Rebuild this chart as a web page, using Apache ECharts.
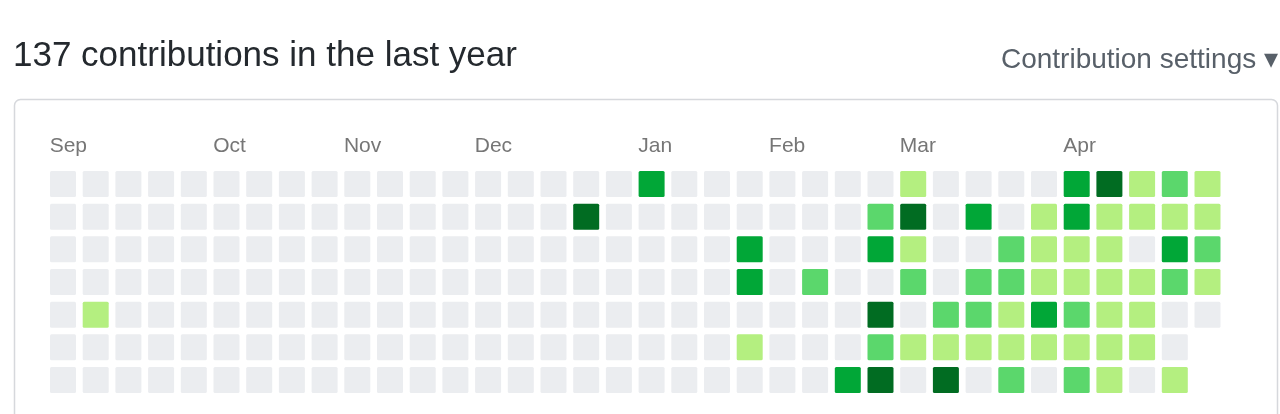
<!DOCTYPE html>
<html>
<head>
<meta charset="utf-8">
<script src="https://cdn.jsdelivr.net/npm/echarts@6/dist/echarts.min.js"></script>
<style>
  html, body { margin: 0; padding: 0; background: #ffffff; }
  #chart { width: 1280px; height: 414px; }
</style>
</head>
<body>
<div id="chart"></div>
<script>
// ---- data ----
const titleText = '137 contributions in the last year';
const settingsText = 'Contribution settings \u25BE';
const weekCount = 36;
const days = ['Sun', 'Mon', 'Tue', 'Wed', 'Thu', 'Fri', 'Sat'];
const monthLabels = ['Sep', 'Oct', 'Nov', 'Dec', 'Jan', 'Feb', 'Mar', 'Apr'];
const monthWeeks = [0, 5, 9, 13, 18, 22, 26, 31];
const levelColors = ['#ebedf0', '#b4ef80', '#5bd76c', '#01a737', '#016c22'];

// contribution level per day row, one value per week column
const rowSun = [0,0,0,0,0,0,0,0,0,0,0,0,0,0,0,0,0,0,3,0,0,0,0,0,0,0,1,0,0,0,0,3,4,1,2,1];
const rowMon = [0,0,0,0,0,0,0,0,0,0,0,0,0,0,0,0,4,0,0,0,0,0,0,0,0,2,4,0,3,0,1,3,1,1,1,1];
const rowTue = [0,0,0,0,0,0,0,0,0,0,0,0,0,0,0,0,0,0,0,0,0,3,0,0,0,3,1,0,0,2,1,1,1,0,3,2];
const rowWed = [0,0,0,0,0,0,0,0,0,0,0,0,0,0,0,0,0,0,0,0,0,3,0,2,0,0,2,0,2,2,1,1,1,1,2,1];
const rowThu = [0,1,0,0,0,0,0,0,0,0,0,0,0,0,0,0,0,0,0,0,0,0,0,0,0,4,0,2,2,1,3,2,1,1,0,0];
const rowFri = [0,0,0,0,0,0,0,0,0,0,0,0,0,0,0,0,0,0,0,0,0,1,0,0,0,2,1,1,1,1,1,1,1,1,0];
const rowSat = [0,0,0,0,0,0,0,0,0,0,0,0,0,0,0,0,0,0,0,0,0,0,0,0,3,4,0,4,0,2,0,2,1,0,1];
const dayRows = [rowSun, rowMon, rowTue, rowWed, rowThu, rowFri, rowSat];

// ---- build ----
const weeks = [];
for (let i = 0; i < weekCount; i++) weeks.push('W' + (i + 1));
const cells = [];
dayRows.forEach(function (row, d) {
  row.forEach(function (v, w) { cells.push([w, d, v]); });
});

const chart = echarts.init(document.getElementById('chart'), null, { renderer: 'canvas' });
const fontFamily = '"Liberation Sans", Arial, Helvetica, sans-serif';

chart.setOption({
  backgroundColor: '#ffffff',
  animation: false,
  title: [
    {
      text: titleText, left: 13, top: 39, padding: 0,
      textStyle: { fontFamily: fontFamily, fontSize: 35, fontWeight: 'normal', color: '#24292e' }
    },
    {
      text: settingsText, right: 2, top: 46, padding: 0,
      textStyle: { fontFamily: fontFamily, fontSize: 28, fontWeight: 'normal', color: '#586069' }
    }
  ],
  graphic: [
    {
      type: 'rect', z: -10, silent: true,
      shape: { x: 14.5, y: 99.5, width: 1263, height: 400, r: 6 },
      style: { fill: '#ffffff', stroke: '#d6d8dc', lineWidth: 1.5 }
    }
  ],
  grid: { left: 46.65, top: 167.65, width: 1177.2, height: 228.7, containLabel: false },
  xAxis: [
    {
      type: 'category', data: weeks, position: 'bottom',
      axisLine: { show: false }, axisTick: { show: false }, axisLabel: { show: false },
      splitLine: { show: false }
    },
    {
      type: 'value', min: 0, max: weekCount, interval: 1, position: 'top',
      axisLine: { show: false }, axisTick: { show: false }, splitLine: { show: false },
      axisLabel: {
        show: true, margin: 11, align: 'left', padding: [0, 0, 0, 3],
        fontFamily: fontFamily, fontSize: 21, color: '#767676',
        showMinLabel: true, showMaxLabel: false,
        formatter: function (v) {
          const i = monthWeeks.indexOf(Math.round(v));
          return i >= 0 ? monthLabels[i] : '';
        }
      }
    }
  ],
  yAxis: {
    type: 'category', data: days, inverse: true,
    axisLine: { show: false }, axisTick: { show: false }, axisLabel: { show: false },
    splitLine: { show: false }
  },
  visualMap: {
    type: 'piecewise', show: false, dimension: 2, seriesIndex: 0,
    pieces: levelColors.map(function (c, i) { return { value: i, color: c }; })
  },
  series: [
    {
      type: 'custom',
      xAxisIndex: 0, yAxisIndex: 0,
      data: cells,
      renderItem: function (params, api) {
        const c = api.coord([api.value(0), api.value(1)]);
        const s = api.size([1, 1]);
        const w = s[0] * 0.795, h = s[1] * 0.795;
        return {
          type: 'rect',
          shape: { x: c[0] - w / 2, y: c[1] - h / 2, width: w, height: h, r: 1.5 },
          style: { fill: api.visual('color') }
        };
      }
    }
  ]
});
</script>
</body>
</html>
